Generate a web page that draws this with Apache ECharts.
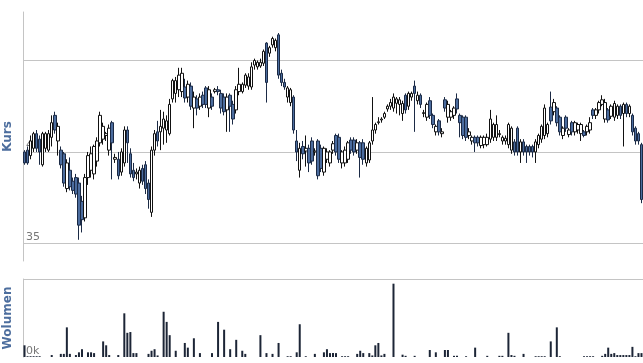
<!DOCTYPE html>
<html>
<head>
<meta charset="utf-8">
<script src="https://cdn.jsdelivr.net/npm/echarts@6/dist/echarts.min.js"></script>
<style>
	html, body { margin: 0; padding: 0; background: #fff; }
	#chart { width: 643px; height: 363px; }
</style>
</head>
<body>
<div id="chart"></div>
<script>
// daily prices
var opens = [
	40.0,40.1,39.8,40.2,41.0,40.7,39.3,40.2,40.1,40.8,42.0,40.6,40.1,39.9,38.0,39.0,38.4,38.6,38.3,37.3,
	36.4,38.6,39.0,38.8,39.5,40.5,40.7,40.9,40.1,41.6,39.6,39.6,38.9,39.4,41.2,39.9,39.0,38.8,38.3,39.1,
	39.3,38.3,36.7,40.1,41.1,41.1,41.3,41.2,41.0,42.9,43.2,43.4,43.3,43.55,43.0,43.6,42.4,42.9,42.5,43.1,
	43.5,42.4,43.0,43.3,43.4,43.2,43.0,42.3,43.1,42.6,42.3,43.3,43.3,43.65,43.6,43.55,44.75,44.65,44.7,44.85,
	45.95,45.4,45.85,45.7,46.4,44.3,43.8,43.0,42.7,43.0,40.6,39.0,40.3,40.05,40.2,40.6,40.0,40.6,40.2,38.9,
	39.6,39.4,40.1,40.9,40.8,39.4,39.4,39.6,40.65,40.65,40.1,40.5,40.5,39.4,39.56,40.6,41.2,41.6,41.75,41.9,
	42.35,42.5,42.4,42.66,42.6,42.1,43.1,42.5,43.0,43.6,42.8,43.1,42.1,41.9,42.8,42.0,41.1,41.7,41.0,42.85,
	41.9,41.9,42.0,42.9,42.0,41.9,41.9,40.9,40.6,40.8,40.8,40.35,40.4,40.4,40.7,40.8,40.8,40.95,40.6,40.6,
	40.4,40.1,40.55,41.3,40.0,40.55,40.3,40.3,40.3,40.0,40.4,40.7,40.9,41.0,42.45,42.2,42.4,41.9,40.9,41.9,
	40.95,41.6,41.1,41.2,41.0,41.1,41.1,41.2,42.3,42.0,42.3,42.6,41.8,42.3,41.95,41.9,42.0,42.5,42.1,42.6,
	42.1,42.0,41.3,41.0,40.4
];
var closes = [
	39.4,39.4,40.6,41.0,40.2,40.0,41.0,41.0,41.0,41.6,41.2,41.4,39.3,38.3,39.4,38.1,37.9,37.7,36.0,36.3,
	38.6,39.8,39.9,40.3,40.6,42.0,41.4,41.0,41.3,40.5,39.7,38.7,40.0,41.2,40.5,38.8,38.6,38.9,39.0,38.4,
	38.0,37.4,40.1,41.0,40.6,41.4,41.8,41.7,42.6,43.9,43.9,44.2,44.3,42.95,43.7,42.5,43.0,42.4,43.0,42.6,
	42.6,43.4,42.5,43.4,43.3,42.4,42.2,43.0,42.5,41.8,43.4,43.7,43.7,44.2,44.1,44.65,45.0,44.9,44.9,45.5,
	43.8,45.7,46.2,46.1,44.2,43.8,43.55,43.5,43.4,41.2,40.0,40.2,39.9,40.2,39.4,39.5,40.05,38.7,39.1,40.2,
	40.0,40.0,40.45,40.0,39.6,40.0,40.1,40.5,40.1,40.0,40.5,39.7,39.6,40.2,40.5,41.2,41.5,41.65,41.8,42.1,
	42.5,42.7,43.0,42.9,42.85,42.65,42.3,43.2,43.2,43.2,43.1,42.6,42.15,42.6,42.0,41.5,41.4,41.1,41.1,42.4,
	42.6,42.2,42.4,42.35,41.6,40.9,40.8,41.1,40.8,40.5,40.5,40.8,40.8,40.8,41.8,41.5,41.5,41.0,40.8,40.75,
	41.5,41.3,40.0,40.0,40.55,40.0,40.0,40.0,40.0,40.55,40.9,41.4,42.4,41.5,41.7,42.7,41.6,41.1,41.3,41.3,
	41.2,41.1,41.6,41.5,41.5,40.9,41.4,41.6,42.0,42.3,42.7,42.85,42.7,41.75,42.5,42.65,42.5,42.0,42.6,42.1,
	42.5,41.1,40.6,40.6,37.4
];
var lows = [
	39.3,39.3,39.6,40.0,40.0,39.3,39.2,40.0,40.0,40.3,41.0,39.8,39.1,38.1,37.8,37.9,37.7,37.5,35.2,35.6,
	36.2,38.2,38.6,38.5,39.2,40.3,40.4,40.6,39.8,38.5,39.4,38.5,38.7,39.2,39.4,38.6,38.4,38.5,38.0,38.2,
	37.7,36.9,36.45,39.8,40.3,40.1,40.4,40.5,40.9,42.7,42.7,43.0,43.0,42.7,42.7,42.3,41.3,42.0,42.3,42.4,
	42.4,41.9,42.3,43.2,43.1,42.1,42.0,41.1,41.1,41.5,42.1,43.1,43.2,43.5,43.4,43.4,44.5,44.5,44.6,44.7,
	42.7,45.2,45.7,45.5,44.0,43.6,43.4,42.7,42.5,41.0,39.5,38.6,39.6,39.2,38.9,39.3,39.8,38.5,38.9,38.7,
	39.4,39.2,39.9,39.8,39.4,39.1,39.2,39.4,39.9,39.8,39.9,38.6,39.3,39.2,39.4,40.4,41.0,41.5,41.6,41.8,
	42.2,42.3,42.2,42.1,42.0,41.7,42.1,42.3,42.8,41.1,42.6,42.4,41.9,41.7,41.8,41.3,40.9,40.9,40.8,42.2,
	41.6,41.7,41.8,42.1,40.8,40.7,40.6,40.7,40.4,40.0,40.3,40.2,40.2,40.3,40.5,40.6,40.6,40.8,40.4,40.4,
	40.2,39.9,39.8,39.8,39.4,39.8,39.4,39.8,39.7,39.4,40.2,40.5,40.7,40.8,41.5,42.0,41.4,40.9,40.7,41.1,
	40.8,40.9,40.9,41.0,40.6,40.8,40.9,41.0,41.8,41.8,42.1,42.5,41.6,41.6,41.8,41.7,41.8,41.8,40.3,41.9,
	41.9,40.9,40.4,40.4,37.2
];
var highs = [
	40.1,40.3,40.9,41.1,41.2,40.9,41.1,41.1,41.2,42.0,42.2,41.6,40.3,40.0,39.6,39.7,38.6,38.8,38.6,37.6,
	38.8,40.0,40.3,40.4,40.8,42.2,41.6,41.1,41.5,41.7,39.9,40.0,40.2,41.4,41.4,40.2,39.4,39.1,39.2,39.3,
	39.5,38.5,40.3,41.2,41.7,42.3,42.2,42.0,42.9,44.0,44.1,44.6,44.6,44.0,43.9,43.8,43.3,43.1,43.2,43.3,
	43.6,43.6,43.2,43.5,43.6,43.4,43.2,43.2,43.2,42.8,43.6,44.6,43.8,44.3,44.3,44.9,45.1,45.0,45.1,45.6,
	46.0,45.8,46.3,46.2,46.5,44.5,44.0,43.6,43.5,43.1,41.2,40.5,40.6,40.9,40.4,40.8,40.2,40.7,40.4,40.3,
	40.2,40.1,40.6,41.0,41.0,40.1,40.3,40.6,40.8,40.8,40.7,40.6,40.7,40.3,40.6,43.0,41.6,41.9,41.9,42.2,
	42.6,42.9,43.2,43.0,43.0,42.8,43.2,43.3,43.3,43.9,43.3,43.2,42.3,42.7,43.0,42.1,41.5,41.8,41.3,43.0,
	42.8,42.3,42.5,43.2,42.1,42.0,42.0,41.3,40.9,40.9,40.9,40.9,40.9,41.0,42.3,41.6,42.0,41.2,40.9,40.9,
	41.6,41.4,40.7,41.4,40.7,40.7,40.4,40.4,40.4,40.7,41.0,41.5,42.6,41.6,43.3,42.9,42.5,42.0,41.4,42.0,
	41.3,41.7,41.7,41.6,41.6,41.2,41.5,41.9,42.4,42.4,42.8,43.1,42.9,42.4,42.6,42.8,42.6,42.6,42.7,42.7,
	42.6,42.1,41.4,41.1,40.5
];
// daily volume in thousands
var volumes = [
	15,1,1,1,1,1,0,0,0,2.5,0,0,4,4,38,4,0,2.5,6,10,
	0,6,6,5,0,0,20,15,2.5,0,0,2.5,0,56,31,32,5,5,0,0,
	0,4,8,10,2,0,58,45,28,0,8,0,0,18,12,0,24,0,5,0,
	0,0,5,0,45,0,35,0,10,0,22,0,8,4,0,0,0,0,28,0,
	5,0,4,0,18,0,0,1,1,0,6,42,0,1,0,0,4,0,0,6,
	10,5,5,5,0,1,1,1,0,0,4,8,5,0,5,2,15,18,2,4,
	0,0,94,0,0,3,1.5,0,0,1.5,0,0,0,0,9,0,6,0,0,9,
	9,0,1.5,1.5,0,0,1,0,0,12,0,0,0,1.5,0,0,0,1.5,1.5,0,
	31,2.5,1.5,0,0,4,0,0,0,1,1,1,1,0,20,0,38,1,0,0,
	0,0,0,0,0,1,1,1,1,0,0,1.5,4,12,4,5,2.5,2.5,2.5,2.5,
	2.5,13,1,5,5
];
var kursTicks  = [35, 40, 45];
var kursLabels = ['35', '40', ''];
var volTop     = 100;

(function () {
	var GRID_LINE = '#c4c4c4';
	var NAME_STYLE = { color: '#4d6e9e', fontWeight: 'bold', fontSize: 12, fontFamily: 'DejaVu Sans' };

	var days = [];
	var candles = [];
	for (var i = 0; i < opens.length; i++) {
		days.push(String(i + 1));
		candles.push([opens[i], closes[i], lows[i], highs[i]]);
	}

	var kursMarks = [];
	for (var k = 0; k < kursTicks.length; k++) {
		kursMarks.push({ yAxis: kursTicks[k], label: { formatter: kursLabels[k] } });
	}

	var chart = echarts.init(document.getElementById('chart'));
	chart.setOption({
		animation: false,
		backgroundColor: '#fff',
		grid: [
			{ left: 23, right: 0, top: 12, bottom: 102, containLabel: false, outerBoundsMode: 'none' },
			{ left: 23, right: 0, top: 279, height: 78, containLabel: false, outerBoundsMode: 'none' }
		],
		xAxis: [
			{ type: 'category', gridIndex: 0, data: days, show: false },
			{ type: 'category', gridIndex: 1, data: days, show: false }
		],
		yAxis: [
			{
				type: 'value', gridIndex: 0, min: 34.04, max: 47.65,
				name: 'Kurs', nameLocation: 'middle', nameGap: 9, nameTextStyle: NAME_STYLE,
				axisLine: { show: true, lineStyle: { color: GRID_LINE, width: 1 } },
				axisTick: { show: false }, axisLabel: { show: false }, splitLine: { show: false }
			},
			{
				type: 'value', gridIndex: 1, min: 0, max: volTop, interval: volTop,
				name: 'Wolumen', nameLocation: 'middle', nameGap: 9, nameTextStyle: NAME_STYLE,
				axisLine: { show: true, lineStyle: { color: GRID_LINE, width: 1 } },
				axisTick: { show: false }, splitLine: { show: false },
				axisLabel: {
					inside: true, margin: 3, verticalAlign: 'bottom',
					color: '#777', fontSize: 11, fontFamily: 'DejaVu Sans',
					formatter: function (v) { return v === 0 ? '0k' : ''; }
				}
			}
		],
		series: [
			{
				name: 'Kurs', type: 'candlestick', xAxisIndex: 0, yAxisIndex: 0, z: 2,
				barWidth: 3,
				itemStyle: {
					color: '#ffffff', borderColor: '#111111',
					color0: '#4b6c9e', borderColor0: '#1b2a45', borderWidth: 1
				},
				markLine: {
					z: 1, silent: true, symbol: 'none',
					lineStyle: { color: GRID_LINE, type: 'solid', width: 1 },
					label: {
						position: 'insideStartTop', distance: [3, 1],
						color: '#777', fontSize: 11, fontFamily: 'DejaVu Sans'
					},
					data: kursMarks
				},
				data: candles
			},
			{
				name: 'Wolumen', type: 'bar', xAxisIndex: 1, yAxisIndex: 1,
				barWidth: 2,
				itemStyle: { color: '#1c2536' },
				markLine: {
					silent: true, symbol: 'none', label: { show: false },
					lineStyle: { color: GRID_LINE, type: 'solid', width: 1 },
					data: [{ yAxis: volTop }]
				},
				data: volumes
			}
		]
	});
})();
</script>
</body>
</html>
